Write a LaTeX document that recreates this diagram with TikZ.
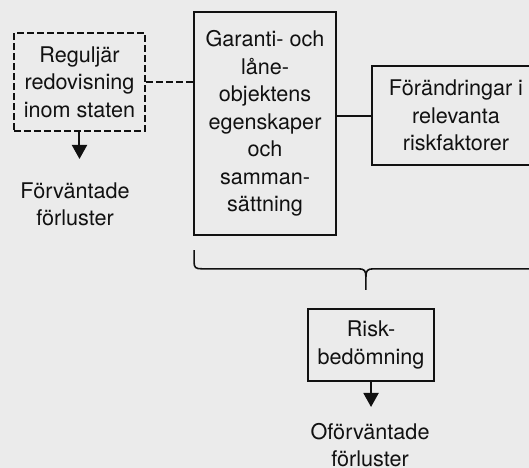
\documentclass[tikz,border=0pt]{standalone}
\usepackage{fontspec}
\setmainfont{TeX Gyre Heros}
\usepackage{xcolor}
\usetikzlibrary{arrows.meta,calc,positioning}
\definecolor{paper}{HTML}{EBEBEB}
\definecolor{ink}{HTML}{111111}

\begin{document}
\begin{tikzpicture}[x=1cm,y=1cm,font=\fontsize{10.8}{13.75}\selectfont,>={Triangle[width=7.5pt,length=7pt]},
  box/.style={draw=ink,line width=1pt,align=center,inner sep=0pt,text=ink},
  dashbox/.style={box,dash pattern=on 3.5pt off 1.5pt},
  lbl/.style={align=center,inner sep=0pt,text=ink,anchor=north}]
% grey sheet, cut at the page edge
\useasboundingbox (0,0) rectangle (9.296,8.224);
\clip (0,0) rectangle (9.296,8.224);
\fill[paper] (0,0) rectangle (9.296,8.224);
% boxes
\node[dashbox,minimum width=2.302cm,minimum height=1.722cm] (regular) at (1.397,6.783) {Reguljär\\redovisning\\inom staten};
\node[box,minimum width=2.495cm,minimum height=3.919cm] (object) at (4.657,6.054) {Garanti- och\\låne-\\objektens\\egenskaper\\och\\samman-\\sättning};
\node[box,minimum width=2.952cm,minimum height=1.740cm] (factors) at (8.013,6.194) {Förändringar i\\relevanta\\riskfaktorer};
\node[box,minimum width=2.214cm,minimum height=1.265cm] (assess) at (6.520,2.161) {Risk-\\bedömning};
% outcomes under the arrows
\coordinate (exptip) at (1.397,5.430);
\coordinate (unexptip) at (6.520,1.072);
\node[lbl] (expected) at (1.318,5.026) {Förväntade\\förluster};
\node[lbl] (unexpected) at (6.502,0.800) {Oförväntade\\förluster};
% links
\draw[ink,line width=1pt,dash pattern=on 3.5pt off 1.5pt] (regular.east) -- (regular.east -| object.west);
\draw[ink,line width=1pt] (factors.west) -- (factors.west -| object.east);
\draw[ink,line width=1pt,->] (regular.south) -- (exptip);
\draw[ink,line width=1pt,->] (assess.south) -- (unexptip);
% brace under the two upper boxes
\draw[ink,line width=0.8pt] (3.41,3.83) -- (3.41,3.62) .. controls (3.41,3.52) and (3.44,3.50) .. (3.55,3.50) -- (6.30,3.50) .. controls (6.40,3.50) and (6.43,3.47) .. (6.43,3.36) -- (6.43,3.13);
\draw[ink,line width=0.8pt] (6.43,3.36) .. controls (6.43,3.47) and (6.46,3.50) .. (6.56,3.50) -- (9.31,3.50) .. controls (9.42,3.50) and (9.45,3.52) .. (9.45,3.62) -- (9.45,3.83);
\end{tikzpicture}
\end{document}
